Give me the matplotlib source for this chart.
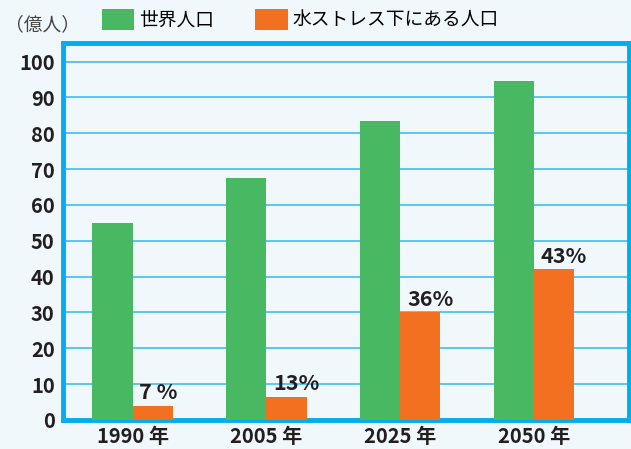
import matplotlib.pyplot as plt
import numpy as np

# values (unit: 100 million people)
years = ["1990 年", "2005 年", "2025 年", "2050 年"]
world_pop = [55, 67.5, 83.5, 94.5]
stressed_pop = [4, 6.5, 30, 42]
stressed_pct = ["7 %", "13%", "36%", "43%"]
yticks = [0, 10, 20, 30, 40, 50, 60, 70, 80, 90, 100]

GREEN = "#48B862"
ORANGE = "#F37021"
BLUE = "#00AEEF"
GRID = "#34B8EA"
BG = "#F1F8FC"
TEXT = "#231F20"

plt.rcParams["font.family"] = ["Liberation Sans Narrow", "Noto Sans CJK JP", "DejaVu Sans"]

fig = plt.figure(figsize=(6.31, 4.49), dpi=100, facecolor=BG)
ax = fig.add_axes([63 / 631, 29 / 449, 566 / 631, 377.5 / 449])
ax.set_facecolor(BG)

x = np.arange(len(years))
w = 0.3
b1 = ax.bar(x - w / 2, world_pop, w, color=GREEN, zorder=3, label="世界人口")
b2 = ax.bar(x + w / 2, stressed_pop, w, color=ORANGE, zorder=3, label="水ストレス下にある人口")

for xi, v, t in zip(x, stressed_pop, stressed_pct):
    ax.text(xi + 0.05, v + 0.8, t, ha="left", va="bottom", fontsize=15.5,
            fontweight="bold", color=TEXT, zorder=4)

ax.set_xlim(-0.52, 3.71)
ax.set_ylim(0, 105.3)
ax.set_yticks(yticks)
ax.set_yticklabels([str(t) for t in yticks], fontsize=14.5, fontweight="bold", color=TEXT)
ax.set_xticks(x)
ax.set_xticklabels(years, fontsize=14.5, fontweight="bold", color=TEXT)
ax.tick_params(length=0)
ax.tick_params(axis="y", pad=6)
ax.tick_params(axis="x", pad=4)

ax.grid(axis="y", color=GRID, linewidth=1.1, zorder=1)
for s in ax.spines.values():
    s.set_color(BLUE)
    s.set_linewidth(3.5)

fig.text(5 / 631, 1 - 25 / 449, "（億人）", fontsize=13.5, color="#444444",
         ha="left", va="center", family=["Noto Sans CJK JP"])

fig.legend(handles=[b1, b2], loc="center left", bbox_to_anchor=(94 / 631, 1 - 20 / 449),
           ncol=2, frameon=False, handlelength=1.75, handleheight=1.35,
           handletextpad=0.25, columnspacing=2.2, borderaxespad=0,
           prop={"family": ["Noto Sans CJK JP"], "size": 13.5})

fig.savefig("out.png", dpi=100, facecolor=BG)
